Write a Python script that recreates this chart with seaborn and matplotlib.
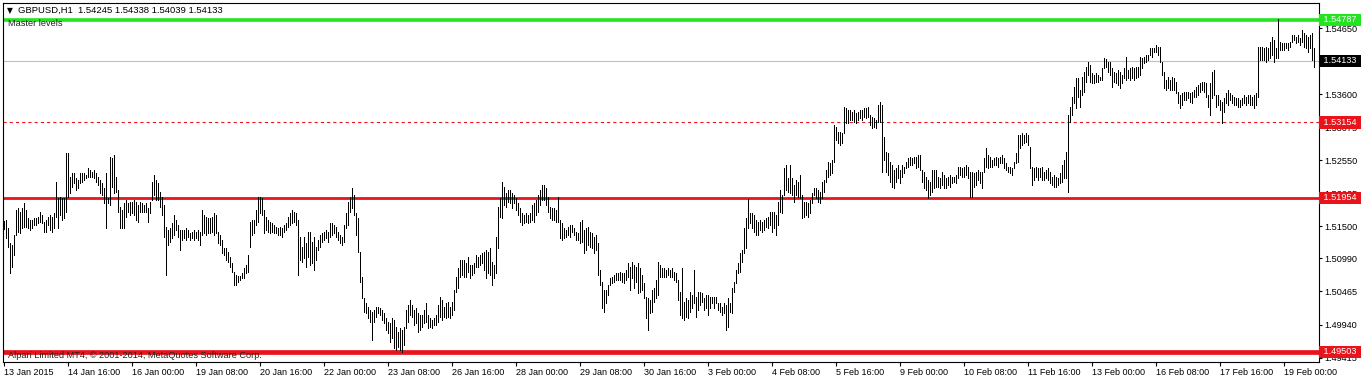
import numpy as np
import pandas as pd
import matplotlib
matplotlib.use("Agg")
import matplotlib.pyplot as plt
import seaborn as sns

# ---------------- data (prices in pips, 1e-4) ----------------
HIGH_PIPS = [
    15159, 15160, 15147, 15124, 15120, 15136, 15176, 15179, 15173, 15179,
    15187, 15176, 15163, 15160, 15160, 15163, 15163, 15165, 15173, 15168,
    15157, 15160, 15165, 15168, 15165, 15171, 15221, 15195, 15197, 15195,
    15195, 15267, 15267, 15229, 15235, 15235, 15227, 15224, 15235, 15235,
    15235, 15232, 15243, 15240, 15237, 15240, 15235, 15229, 15224, 15219,
    15211, 15235, 15195, 15260, 15259, 15264, 15229, 15208, 15181, 15176,
    15187, 15192, 15187, 15189, 15189, 15192, 15189, 15184, 15189, 15187,
    15184, 15187, 15179, 15189, 15221, 15232, 15224, 15219, 15205, 15197,
    15184, 15149, 15144, 15147, 15155, 15168, 15160, 15152, 15144, 15144,
    15144, 15147, 15144, 15140, 15141, 15144, 15141, 15144, 15141, 15176,
    15168, 15165, 15163, 15163, 15165, 15171, 15168, 15141, 15136, 15128,
    15116, 15116, 15109, 15101, 15092, 15078, 15073, 15071, 15071, 15076,
    15084, 15089, 15105, 15157, 15160, 15160, 15176, 15197, 15197, 15195,
    15176, 15165, 15160, 15157, 15155, 15152, 15149, 15147, 15149, 15147,
    15152, 15155, 15165, 15171, 15176, 15173, 15171, 15160, 15133, 15117,
    15133, 15124, 15141, 15141, 15125, 15133, 15117, 15128, 15136, 15140,
    15141, 15144, 15141, 15155, 15155, 15152, 15149, 15141, 15136, 15133,
    15152, 15171, 15189, 15197, 15211, 15200, 15171, 15163, 15109, 15070,
    15036, 15028, 15022, 15017, 15014, 15017, 15022, 15022, 15020, 15017,
    15012, 15004, 14998, 14996, 15004, 15001, 14990, 14982, 14988, 14985,
    14990, 15017, 15025, 15033, 15025, 15017, 15020, 15012, 15009, 15009,
    15017, 15028, 15009, 15004, 15001, 15004, 15009, 15025, 15038, 15033,
    15022, 15028, 15030, 15022, 15030, 15049, 15070, 15084, 15097, 15097,
    15097, 15092, 15101, 15089, 15089, 15092, 15105, 15101, 15105, 15108,
    15109, 15112, 15109, 15116, 15093, 15089, 15133, 15181, 15195, 15221,
    15213, 15203, 15208, 15208, 15203, 15200, 15195, 15187, 15179, 15171,
    15168, 15171, 15168, 15171, 15184, 15187, 15192, 15200, 15208, 15216,
    15216, 15211, 15197, 15181, 15179, 15179, 15176, 15197, 15160, 15155,
    15147, 15144, 15149, 15152, 15152, 15147, 15141, 15140, 15157, 15160,
    15144, 15147, 15149, 15141, 15140, 15133, 15136, 15124, 15081, 15062,
    15049, 15049, 15057, 15068, 15070, 15073, 15076, 15076, 15078, 15076,
    15076, 15081, 15092, 15085, 15093, 15089, 15085, 15092, 15084, 15073,
    15060, 15038, 15036, 15033, 15049, 15052, 15065, 15093, 15089, 15084,
    15084, 15081, 15084, 15081, 15084, 15078, 15076, 15065, 15046, 15084,
    15030, 15036, 15033, 15046, 15041, 15081, 15038, 15046, 15046, 15044,
    15036, 15041, 15041, 15038, 15038, 15038, 15038, 15028, 15028, 15022,
    15028, 15025, 15036, 15028, 15052, 15062, 15081, 15092, 15108, 15112,
    15147, 15163, 15194, 15171, 15171, 15168, 15160, 15157, 15160, 15157,
    15160, 15163, 15165, 15173, 15173, 15173, 15168, 15189, 15208, 15200,
    15243, 15248, 15227, 15248, 15227, 15216, 15224, 15221, 15232, 15200,
    15189, 15189, 15187, 15192, 15203, 15211, 15211, 15208, 15205, 15221,
    15224, 15240, 15252, 15251, 15256, 15311, 15308, 15300, 15300, 15299,
    15340, 15338, 15335, 15335, 15332, 15335, 15330, 15332, 15335, 15335,
    15338, 15338, 15340, 15327, 15324, 15322, 15319, 15343, 15348, 15343,
    15292, 15268, 15267, 15252, 15248, 15240, 15243, 15248, 15240, 15248,
    15245, 15252, 15259, 15260, 15259, 15260, 15260, 15264, 15264, 15240,
    15237, 15229, 15224, 15221, 15240, 15240, 15240, 15229, 15227, 15237,
    15232, 15227, 15229, 15232, 15229, 15229, 15232, 15245, 15245, 15243,
    15245, 15248, 15245, 15237, 15237, 15235, 15237, 15240, 15237, 15237,
    15259, 15275, 15264, 15260, 15256, 15259, 15260, 15259, 15260, 15264,
    15259, 15251, 15245, 15245, 15243, 15252, 15267, 15295, 15295, 15299,
    15295, 15299, 15295, 15276, 15245, 15243, 15245, 15243, 15243, 15245,
    15237, 15240, 15243, 15237, 15229, 15232, 15229, 15227, 15235, 15248,
    15256, 15268, 15327, 15340, 15356, 15372, 15386, 15386, 15367, 15388,
    15396, 15403, 15411, 15407, 15394, 15391, 15394, 15391, 15388, 15402,
    15418, 15416, 15411, 15411, 15402, 15396, 15394, 15399, 15396, 15391,
    15402, 15419, 15399, 15402, 15403, 15402, 15403, 15403, 15419, 15418,
    15419, 15423, 15423, 15434, 15434, 15434, 15438, 15435, 15435, 15411,
    15396, 15383, 15388, 15383, 15388, 15386, 15380, 15364, 15359, 15362,
    15364, 15364, 15364, 15362, 15364, 15367, 15372, 15375, 15378, 15380,
    15380, 15378, 15359, 15378, 15396, 15399, 15359, 15359, 15351, 15348,
    15354, 15362, 15367, 15362, 15359, 15356, 15354, 15354, 15351, 15354,
    15359, 15356, 15359, 15359, 15356, 15359, 15362, 15435, 15435, 15435,
    15434, 15435, 15434, 15443, 15451, 15446, 15434, 15479, 15443, 15442,
    15442, 15442, 15442, 15443, 15454, 15454, 15451, 15454, 15450, 15462,
    15458, 15454, 15451, 15454, 15458, 15434,
]

LOW_PIPS = [
    15146, 15132, 15117, 15076, 15085, 15105, 15136, 15141, 15140, 15147,
    15149, 15149, 15147, 15144, 15147, 15152, 15152, 15155, 15157, 15155,
    15141, 15141, 15152, 15144, 15141, 15147, 15165, 15147, 15168, 15160,
    15163, 15173, 15197, 15203, 15213, 15219, 15208, 15211, 15219, 15221,
    15224, 15227, 15229, 15229, 15229, 15227, 15221, 15216, 15203, 15200,
    15187, 15147, 15187, 15184, 15213, 15203, 15205, 15173, 15147, 15147,
    15147, 15165, 15173, 15168, 15171, 15168, 15160, 15157, 15173, 15173,
    15173, 15173, 15157, 15171, 15192, 15200, 15192, 15192, 15181, 15168,
    15133, 15073, 15120, 15125, 15132, 15136, 15144, 15133, 15112, 15128,
    15132, 15128, 15133, 15128, 15132, 15128, 15132, 15128, 15120, 15136,
    15140, 15136, 15140, 15140, 15141, 15136, 15140, 15124, 15120, 15108,
    15105, 15097, 15093, 15085, 15078, 15057, 15057, 15062, 15065, 15068,
    15068, 15076, 15078, 15117, 15136, 15140, 15152, 15157, 15171, 15168,
    15140, 15144, 15141, 15140, 15141, 15140, 15140, 15136, 15136, 15133,
    15141, 15144, 15149, 15152, 15155, 15157, 15152, 15073, 15097, 15093,
    15100, 15085, 15101, 15089, 15092, 15081, 15097, 15112, 15117, 15125,
    15128, 15132, 15125, 15133, 15136, 15140, 15133, 15128, 15124, 15120,
    15125, 15147, 15152, 15173, 15179, 15168, 15136, 15109, 15062, 15036,
    15014, 15012, 15004, 14998, 14969, 14998, 15006, 15012, 15009, 15001,
    14996, 14985, 14981, 14966, 14973, 14957, 14953, 14958, 14953, 14950,
    14961, 14988, 14998, 15009, 15006, 14993, 14996, 14982, 14985, 14990,
    14996, 14998, 14988, 14990, 14988, 14993, 14993, 14998, 15006, 15001,
    15006, 15004, 15006, 15004, 15009, 15017, 15046, 15052, 15070, 15073,
    15070, 15070, 15078, 15068, 15073, 15076, 15085, 15085, 15089, 15092,
    15081, 15068, 15076, 15073, 15057, 15068, 15076, 15116, 15165, 15163,
    15184, 15181, 15189, 15187, 15179, 15187, 15176, 15168, 15157, 15152,
    15155, 15157, 15155, 15157, 15160, 15157, 15168, 15173, 15184, 15192,
    15192, 15184, 15173, 15163, 15160, 15160, 15157, 15157, 15132, 15128,
    15132, 15133, 15136, 15133, 15141, 15136, 15128, 15128, 15124, 15125,
    15108, 15112, 15120, 15117, 15116, 15108, 15112, 15073, 15057, 15020,
    15014, 15028, 15041, 15057, 15060, 15062, 15065, 15065, 15065, 15062,
    15060, 15065, 15070, 15049, 15068, 15052, 15062, 15044, 15046, 15049,
    15036, 15004, 14985, 15012, 15014, 15030, 15036, 15041, 15070, 15070,
    15070, 15070, 15073, 15070, 15070, 15065, 15062, 15033, 15009, 15004,
    15001, 15006, 15004, 15014, 15020, 15028, 15006, 15017, 15025, 15030,
    15017, 15020, 15009, 15020, 15028, 15020, 15028, 15017, 15014, 15009,
    15012, 14985, 14990, 15014, 15012, 15046, 15060, 15076, 15078, 15093,
    15108, 15116, 15147, 15155, 15147, 15141, 15136, 15136, 15144, 15141,
    15144, 15149, 15147, 15152, 15141, 15147, 15136, 15152, 15173, 15171,
    15200, 15208, 15205, 15203, 15200, 15189, 15200, 15197, 15195, 15163,
    15165, 15168, 15165, 15171, 15187, 15200, 15195, 15189, 15187, 15195,
    15205, 15221, 15229, 15232, 15235, 15252, 15287, 15283, 15279, 15283,
    15299, 15314, 15314, 15319, 15319, 15316, 15314, 15319, 15322, 15319,
    15324, 15322, 15324, 15311, 15306, 15308, 15306, 15316, 15316, 15237,
    15256, 15237, 15232, 15221, 15213, 15211, 15221, 15227, 15219, 15229,
    15235, 15243, 15245, 15248, 15248, 15251, 15243, 15245, 15240, 15221,
    15211, 15208, 15195, 15200, 15205, 15211, 15213, 15213, 15211, 15216,
    15211, 15211, 15216, 15213, 15219, 15221, 15219, 15227, 15232, 15229,
    15229, 15232, 15227, 15197, 15197, 15213, 15216, 15224, 15219, 15211,
    15237, 15245, 15243, 15245, 15245, 15248, 15248, 15245, 15251, 15251,
    15243, 15240, 15237, 15235, 15232, 15243, 15251, 15252, 15275, 15279,
    15283, 15284, 15279, 15243, 15216, 15224, 15229, 15224, 15229, 15224,
    15224, 15227, 15224, 15219, 15216, 15213, 15213, 15216, 15219, 15221,
    15227, 15227, 15205, 15316, 15327, 15346, 15338, 15356, 15340, 15359,
    15364, 15380, 15391, 15380, 15378, 15378, 15380, 15380, 15383, 15383,
    15402, 15403, 15396, 15391, 15372, 15380, 15378, 15375, 15370, 15378,
    15386, 15383, 15386, 15383, 15386, 15383, 15386, 15388, 15391, 15402,
    15410, 15411, 15415, 15423, 15419, 15427, 15427, 15423, 15411, 15391,
    15370, 15367, 15370, 15367, 15367, 15367, 15362, 15346, 15338, 15343,
    15351, 15351, 15354, 15348, 15346, 15356, 15356, 15359, 15364, 15367,
    15364, 15356, 15340, 15327, 15354, 15359, 15340, 15343, 15335, 15314,
    15332, 15346, 15343, 15351, 15346, 15343, 15343, 15340, 15340, 15343,
    15346, 15343, 15346, 15343, 15343, 15338, 15343, 15356, 15415, 15415,
    15415, 15411, 15415, 15418, 15423, 15411, 15418, 15418, 15430, 15430,
    15430, 15434, 15430, 15435, 15443, 15446, 15442, 15443, 15438, 15443,
    15435, 15434, 15427, 15434, 15415, 15404,
]

X_LABELS = ["13 Jan 2015", "14 Jan 16:00", "16 Jan 00:00", "19 Jan 08:00",
            "20 Jan 16:00", "22 Jan 00:00", "23 Jan 08:00", "26 Jan 16:00",
            "28 Jan 00:00", "29 Jan 08:00", "30 Jan 16:00", "3 Feb 00:00",
            "4 Feb 08:00", "5 Feb 16:00", "9 Feb 00:00", "10 Feb 08:00",
            "11 Feb 16:00", "13 Feb 00:00", "16 Feb 08:00", "17 Feb 16:00",
            "19 Feb 00:00"]
X_LABEL_STEP = 32          # bars (hours) between time labels

Y_TICKS = [1.54650, 1.54125, 1.53600, 1.53075, 1.52550, 1.52025,
           1.51500, 1.50990, 1.50465, 1.49940, 1.49415]
Y_TICKS_HIDDEN = [1.54125]   # fully covered by the last-price box in the reference

LEVEL_VALUES = [1.54787, 1.53154, 1.51954, 1.49503]
LEVEL_COLORS = ["#22e41f", "#e8141c", "#e8141c", "#e8141c"]
LEVEL_WIDTHS = [2.6, 0.8, 2.0, 3.4]
LEVEL_STYLES = ["-", (0, (2.8, 2.8)), "-", "-"]
LAST_PRICE = 1.54133

SYMBOL = "GBPUSD,H1"
OHLC = "1.54245 1.54338 1.54039 1.54133"
INDICATOR = "Master levels"
COPYRIGHT = "Alpari Limited MT4, \u00a9 2001-2014, MetaQuotes Software Corp."

# ---------------- styling ----------------
sns.set_theme(style="ticks")
plt.rcParams["font.family"] = ["Liberation Sans", "DejaVu Sans"]
plt.rcParams["axes.linewidth"] = 0.8

n = min(len(HIGH_PIPS), len(LOW_PIPS))
bars = pd.DataFrame({"bar": np.arange(n),
                     "high": np.array(HIGH_PIPS[:n]) / 1e4,
                     "low": np.array(LOW_PIPS[:n]) / 1e4})
long = bars.melt(id_vars="bar", value_vars=["low", "high"], value_name="price")

W, H = 1362, 380
fig = plt.figure(figsize=(W / 100, H / 100), dpi=100, facecolor="white")
ax = fig.add_axes([3 / W, 1 - 362 / H, 1316 / W, 359 / H])
ax.set_facecolor("white")

sns.lineplot(data=long, x="bar", y="price", units="bar", estimator=None,
             sort=False, color="black", lw=0.5, antialiased=False,
             solid_capstyle="butt", legend=False, ax=ax)

ax.set_xlim(-0.5, 657.5)
ax.set_ylim(1.49344, 1.55052)
ax.set_xlabel("")
ax.set_ylabel("")

# level lines
for v, c, w, s in zip(LEVEL_VALUES, LEVEL_COLORS, LEVEL_WIDTHS, LEVEL_STYLES):
    ax.axhline(v, color=c, lw=w, ls=s, zorder=1.5)
ax.axhline(LAST_PRICE, color="#c0c0c0", lw=0.8, zorder=1.4)

# y axis on the right
ax.yaxis.tick_right()
ax.set_yticks(Y_TICKS)
ax.set_yticklabels(["" if t in Y_TICKS_HIDDEN else f"{t:.5f}" for t in Y_TICKS])
ax.tick_params(axis="y", direction="out", length=2.5, width=0.8, pad=1.5,
               labelsize=6.6, colors="black")

# x axis labels
ticks_x = [i * X_LABEL_STEP for i in range(len(X_LABELS))]
ax.set_xticks(ticks_x)
ax.set_xticklabels(X_LABELS)
for lbl in ax.get_xticklabels():
    lbl.set_horizontalalignment("left")
ax.tick_params(axis="x", direction="out", length=3, width=0.8, pad=1.2,
               labelsize=6.5, colors="black")

for sp in ax.spines.values():
    sp.set_color("black")
    sp.set_linewidth(0.8)

# price boxes on the right scale
ytr = ax.get_yaxis_transform()
box_specs = list(zip(LEVEL_VALUES, LEVEL_COLORS)) + [(LAST_PRICE, "black")]
for v, c in box_specs:
    ax.text(1.0016, v, f" {v:.5f} ", transform=ytr, ha="left", va="center",
            fontsize=6.6, color="white", clip_on=False, zorder=10,
            bbox=dict(boxstyle="square,pad=0.18", fc=c, ec="none"))

# header texts
fig.text(7 / W, 1 - 10.5 / H, "\u25bc", fontsize=5.5, color="black",
         va="center", ha="left", family=["DejaVu Sans"])
fig.text(18 / W, 1 - 10.5 / H, f"{SYMBOL}  {OHLC}", fontsize=6.8,
         color="black", va="center", ha="left")
ax.text(8 / W, 1 - 23.5 / H, INDICATOR, transform=fig.transFigure,
        fontsize=6.6, color="#222222", va="center", ha="left", zorder=10)
ax.text(8 / W, 1 - 355.5 / H, COPYRIGHT, transform=fig.transFigure,
        fontsize=6.6, color="#222222", va="center", ha="left", zorder=10)

fig.savefig("out.png", dpi=100, facecolor="white")
